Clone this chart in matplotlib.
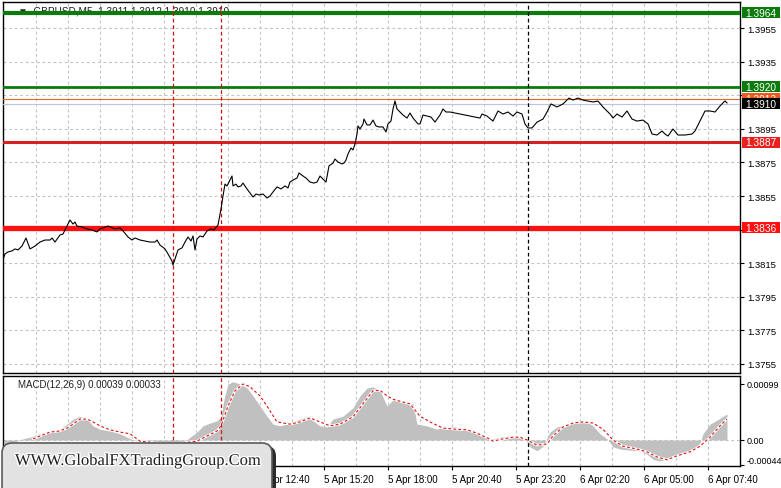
import matplotlib
matplotlib.use("Agg")
import matplotlib.pyplot as plt
import matplotlib.patheffects as pe
from matplotlib.patches import FancyBboxPatch, Rectangle
from matplotlib.transforms import IdentityTransform

plt.rcParams["font.family"] = ["Liberation Sans", "DejaVu Sans"]

# %% data (x = M5 bar index)
symbol_caption = "\u25bc  GBPUSD,M5  1.3911 1.3912 1.3910 1.3910"
macd_caption = "MACD(12,26,9) 0.00039 0.00033"
watermark_text = "WWW.GlobalFXTradingGroup.Com"

price_bar = [0, 0.5, 2, 4, 5.5, 7, 9, 11, 13, 15.5, 18, 20.5, 23, 24, 25.5, 28, 29.5,
             31.5, 33, 34.5, 35.5, 36.5, 39, 41.5, 44, 46.5, 48, 49.5, 52, 55.5, 58,
             59.5, 62, 64, 65.5, 68, 70.5, 73, 75.5, 76.5, 78, 80.5, 82, 84, 84.5, 86,
             87, 89, 90.5, 92, 93.5, 94.5, 95.5, 96.5, 98, 99.5, 101.5, 103.5, 105,
             107, 108.5, 109.5, 110.5, 111.5, 112.5, 114, 114.5, 116, 117, 118.5,
             119.5, 121.5, 123, 124.5, 126, 127.5, 129.5, 131.5, 133, 134.5, 136.5,
             138.5, 140.5, 142, 143, 144.5, 146.5, 147.5, 149.5, 151, 153, 155, 156.5,
             158, 159.5, 161, 162.5, 164.5, 165.5, 167, 169, 170, 171, 172, 173.5,
             174.5, 175.5, 176.5, 177, 178, 179.5, 180, 181.5, 183, 184.5, 186, 187.5,
             189.5, 191, 192, 193.5, 194.5, 195.5, 196.5, 198, 199.5, 201.5, 203,
             204.5, 207, 208, 209.5, 211.5, 213.5, 215.5, 218, 219.5, 221, 223, 228,
             233, 238, 239, 241.5, 244.5, 247, 249.5, 252, 254.5, 256.5, 259, 260.5,
             262, 264, 266.5, 269.5, 271.5, 273.5, 276.5, 279.5, 282.5, 284.5, 287,
             289.5, 292, 294.5, 297, 299.5, 303, 304.5, 306.5, 309, 311.5, 314, 316.5,
             319.5, 322, 324, 326.5, 329, 330.5, 332, 334.5, 337, 340.5, 344, 345.5,
             348, 350.5, 353, 355.5, 358, 360.5, 361.5]
price_close = [1.38187, 1.38205, 1.38217, 1.38223, 1.38235, 1.38229, 1.38252, 1.38300,
               1.38235, 1.38252, 1.38276, 1.38288, 1.38288, 1.38300, 1.38276, 1.38318,
               1.38324, 1.38371, 1.38407, 1.38383, 1.38395, 1.38371, 1.38366, 1.38354,
               1.38348, 1.38336, 1.38354, 1.38360, 1.38371, 1.38354, 1.38360, 1.38342,
               1.38306, 1.38288, 1.38300, 1.38288, 1.38282, 1.38276, 1.38276, 1.38288,
               1.38258, 1.38235, 1.38205, 1.38163, 1.38139, 1.38193, 1.38229, 1.38241,
               1.38276, 1.38306, 1.38282, 1.38312, 1.38229, 1.38294, 1.38312, 1.38306,
               1.38342, 1.38354, 1.38348, 1.38377, 1.38473, 1.38550, 1.38621, 1.38610,
               1.38633, 1.38669, 1.38610, 1.38621, 1.38604, 1.38610, 1.38627, 1.38592,
               1.38568, 1.38544, 1.38562, 1.38556, 1.38562, 1.38538, 1.38550, 1.38574,
               1.38604, 1.38592, 1.38610, 1.38598, 1.38633, 1.38645, 1.38657, 1.38687,
               1.38669, 1.38657, 1.38633, 1.38627, 1.38633, 1.38669, 1.38651, 1.38633,
               1.38729, 1.38746, 1.38770, 1.38752, 1.38741, 1.38746, 1.38764, 1.38800,
               1.38836, 1.38824, 1.38860, 1.38919, 1.38967, 1.38949, 1.38979, 1.39008,
               1.38973, 1.38973, 1.39002, 1.38967, 1.38961, 1.38961, 1.38931, 1.38979,
               1.38996, 1.39068, 1.39116, 1.39068, 1.39050, 1.39032, 1.39014, 1.39044,
               1.39014, 1.38979, 1.38979, 1.39032, 1.39026, 1.39020, 1.38990, 1.39032,
               1.39068, 1.39050, 1.39050, 1.39038, 1.39026, 1.39014, 1.39038, 1.39026,
               1.38996, 1.39056, 1.39038, 1.39050, 1.39026, 1.39050, 1.39038, 1.38979,
               1.38955, 1.38955, 1.38990, 1.39008, 1.39050, 1.39098, 1.39080, 1.39098,
               1.39133, 1.39121, 1.39133, 1.39121, 1.39115, 1.39110, 1.39115, 1.39080,
               1.39038, 1.39014, 1.39038, 1.39020, 1.39056, 1.39008, 1.38996, 1.39002,
               1.38979, 1.38919, 1.38913, 1.38937, 1.38919, 1.38907, 1.38949, 1.38913,
               1.38913, 1.38919, 1.38937, 1.38996, 1.39056, 1.39056, 1.39050, 1.39086,
               1.39116, 1.39104]

# horizontal levels: value, line colour, label box colour
level_value = [1.3913, 1.3964, 1.3920, 1.3910, 1.3887, 1.3836]
level_line_color = ["#e06a22", "#0c7a0c", "#0c7a0c", "#b8c8dc", "#d42222", "#ff1010"]
level_box_color = ["#f05a1e", "#0c7a0c", "#0c7a0c", "#000000", "#e82020", "#ff1010"]
level_width = [0.8, 3.0, 2.0, 0.8, 2.2, 3.8]

hist_bar = [0, 5, 9.5, 13, 18, 23, 28, 31.5, 34.5, 38, 41.5, 44.5, 48, 53, 58, 61.5, 64.5,
            70, 78, 85, 90, 93, 96.5, 99.5, 103, 106.5, 108.5, 110, 112, 114.5, 118,
            121.5, 124.5, 128, 131.5, 134.5, 138, 143, 148, 151.5, 154.5, 158, 161.5,
            164.5, 169.5, 174.5, 178, 181.5, 184.5, 188, 191.5, 194.5, 198, 201.5,
            204.5, 206.5, 211.5, 216.5, 219.5, 224.5, 229.5, 234.5, 239.5, 244.5, 248,
            253, 258, 260.5, 263, 266.5, 269.5, 273, 276.5, 281.5, 286.5, 291.5, 294.5,
            298, 301.5, 304.5, 308, 313, 318, 321.5, 324.5, 328, 331.5, 334.5, 339.5,
            344.5, 348, 349.5, 353, 356.5, 359.5, 361.5]
hist_val = [-0.00006, -0.00004, 0.00002, 0.00005, 0.00011, 0.00016, 0.00019, 0.00028,
            0.00037, 0.00042, 0.00037, 0.00025, 0.00019, 0.00016, 0.00011, 0.00005,
            0.0, -0.00004, -0.00007, -0.00009, -0.00005, 0.00005, 0.00014, 0.00025,
            0.00030, 0.00034, 0.00041, 0.00072, 0.00099, 0.00103, 0.00099, 0.00092,
            0.00078, 0.00060, 0.00042, 0.00028, 0.00025, 0.00030, 0.00037, 0.00041,
            0.00034, 0.00025, 0.00023, 0.00037, 0.00042, 0.00057, 0.00078, 0.00092,
            0.00094, 0.00087, 0.00060, 0.00071, 0.00069, 0.00067, 0.00064, 0.00028,
            0.00025, 0.00019, 0.00023, 0.00023, 0.00021, 0.00016, 0.00007, 0.00002,
            0.00005, 0.00007, 0.00007, 0.00002, -0.00012, -0.00019, -0.00011, 0.00014,
            0.00023, 0.00028, 0.00034, 0.00032, 0.00025, 0.00011, 0.00002, -0.00012,
            -0.00016, -0.00018, -0.00019, -0.00025, -0.00034, -0.00037, -0.00034,
            -0.00028, -0.00025, -0.00019, -0.00005, 0.00011, 0.00028, 0.00035, 0.00042,
            0.00046]

signal_bar = [14.5, 18, 23, 28, 31.5, 34.5, 38, 41.5, 44.5, 48, 53, 58, 63, 68, 78, 88,
              96.5, 101.5, 106.5, 108.5, 112, 115.5, 119.5, 123, 128, 131.5, 136.5, 143,
              148, 153, 158, 163, 168, 174.5, 179.5, 184.5, 188, 191.5, 194.5, 199.5,
              203, 208, 213, 219.5, 226.5, 231.5, 236.5, 241.5, 244.5, 249.5, 254.5,
              258, 261.5, 266.5, 271.5, 274.5, 279.5, 284.5, 289.5, 294.5, 299.5, 304.5,
              309.5, 316.5, 321.5, 326.5, 331.5, 336.5, 343, 348, 353, 358, 361.5]
signal_val = [0.00002, 0.00007, 0.00014, 0.00016, 0.00021, 0.00028, 0.00037, 0.00037,
              0.00032, 0.00025, 0.00018, 0.00014, 0.00011, -0.00002, -0.00006, -0.00006,
              -0.00002, 0.00007, 0.00016, 0.00025, 0.00060, 0.00087, 0.00099, 0.00094,
              0.00078, 0.00060, 0.00032, 0.00028, 0.00032, 0.00039, 0.00032, 0.00025,
              0.00028, 0.00041, 0.00064, 0.00087, 0.00088, 0.00078, 0.00072, 0.00067,
              0.00064, 0.00042, 0.00032, 0.00021, 0.00019, 0.00018, 0.00012, 0.00004,
              -0.00002, 0.00002, 0.00005, 0.00005, 0.0, -0.00009, -0.00007, 0.00007,
              0.00023, 0.00030, 0.00032, 0.00030, 0.00019, 0.0, -0.00011, -0.00016,
              -0.00021, -0.00030, -0.00035, -0.00028, -0.00021, -0.00011, 0.00005,
              0.00025, 0.00037]

price_ticks = [1.3755, 1.3775, 1.3795, 1.3815, 1.3835, 1.3855, 1.3875, 1.3895, 1.3915,
               1.3935, 1.3955]
hidden_price_ticks = [1.3835, 1.3915]   # covered by the level boxes on the chart
macd_ticks = [0.00099, 0.0, -0.00044]
time_tick_bar = [0, 32, 64, 96, 128, 160, 192, 224, 256, 288, 320, 352]
time_tick_label = ["5 Apr 02:00", "5 Apr 04:40", "5 Apr 07:20", "5 Apr 10:00",
                   "5 Apr 12:40", "5 Apr 15:20", "5 Apr 18:00", "5 Apr 20:40",
                   "5 Apr 23:20", "6 Apr 02:20", "6 Apr 05:00", "6 Apr 07:40"]
grid_bar = list(range(16, 353, 16))
marker_bar = [84.5, 108.5, 262]
marker_color = ["#d01010", "#d01010", "#000000"]

# %% layout
W, H = 781, 489
fig = plt.figure(figsize=(W / 100, H / 100), dpi=100)
ax = fig.add_axes([3 / W, 1 - 374 / H, 737 / W, 371 / H])
ax2 = fig.add_axes([3 / W, 1 - 467 / H, 737 / W, 90 / H])

grid_kw = dict(color="#c4c4c4", lw=0.8, dashes=(2.6, 2.4), zorder=0)
for a in (ax, ax2):
    a.set_xlim(-0.5, 368)
    for b in grid_bar:
        a.axvline(b, **grid_kw)
    for b, c in zip(marker_bar, marker_color):
        a.axvline(b, color=c, lw=0.9, dashes=(3.0, 2.2), zorder=4)
    for s in a.spines.values():
        s.set_color("black")
        s.set_linewidth(1.0)
    a.yaxis.tick_right()
    a.tick_params(axis="y", direction="out", length=3, width=0.8, pad=2,
                  labelsize=6.8, colors="black")

# %% price panel
ax.set_ylim(1.374964, 1.397048)
ax.set_yticks(price_ticks)
ax.set_yticklabels(["" if t in hidden_price_ticks else f"{t:.4f}" for t in price_ticks])
ax.set_xticks([])
for t in price_ticks:
    ax.axhline(t, **grid_kw)

ax.text(7, 1.39686, symbol_caption, fontsize=7.2, color="#202020", va="top", zorder=1)

for v, lc, lw in zip(level_value, level_line_color, level_width):
    ax.axhline(v, color=lc, lw=lw, zorder=3)

ax.plot(price_bar, price_close, color="black", lw=0.8, zorder=5)

# level price boxes on the right scale (38 x 11 px)
ytrans = ax.get_yaxis_transform()
box_w = 38 / 737
box_h = 11 / 16800
for i, (v, bc) in enumerate(zip(level_value, level_box_color)):
    ax.add_patch(Rectangle((1 + 2 / 737, v - box_h / 2), box_w, box_h, transform=ytrans,
                           fc=bc, ec="none", clip_on=False, zorder=10 + 2 * i))
    ax.text(1 + 2 / 737 + box_w / 2, v, f"{v:.4f}", transform=ytrans, fontsize=7.3,
            color="white", va="center", ha="center", clip_on=False, zorder=11 + 2 * i)

# %% MACD panel
ax2.set_ylim(-0.00045964, 0.0011314)
ax2.axhline(0, **grid_kw)
ax2.fill_between(hist_bar, 0, hist_val, color="#c0c0c0", lw=0, zorder=2)
ax2.plot(signal_bar, signal_val, color="white", lw=1.8, zorder=3)
ax2.plot(signal_bar, signal_val, color="#dd1111", lw=0.8, dashes=(2.5, 2.0), zorder=3.5)
ax2.set_yticks(macd_ticks)
ax2.set_yticklabels(["0.00099", "0.00", "-0.00044"])
ax2.tick_params(axis="y", labelsize=6.5)
ax2.get_yticklabels()[2].set_va("bottom")
ax2.text(7, 0.00099, macd_caption, fontsize=7, color="#202020", va="center")

ax2.set_xticks(time_tick_bar)
ax2.set_xticklabels(time_tick_label)
ax2.tick_params(axis="x", direction="out", length=3, width=0.8, pad=3,
                labelsize=7, colors="black")
for lab in ax2.get_xticklabels():
    lab.set_ha("left")

# %% watermark
px = IdentityTransform()
fig.add_artist(FancyBboxPatch((6, -20), 270, 62, boxstyle="round,pad=0,rounding_size=10",
                              transform=px, fc="#2a2a2a", ec="none", zorder=20))
fig.add_artist(FancyBboxPatch((2, -16), 270, 61, boxstyle="round,pad=0,rounding_size=10",
                              transform=px, fc="#e2e2e2", ec="#5a5a5a", lw=1.2, zorder=21))
wm = fig.text(15, 27, watermark_text, transform=px, fontsize=11.9,
              family="Liberation Serif", color="#1e1e1e", va="center", ha="left", zorder=22)
wm.set_path_effects([pe.withStroke(linewidth=2.0, foreground="white")])

fig.savefig("out.png", dpi=100)
